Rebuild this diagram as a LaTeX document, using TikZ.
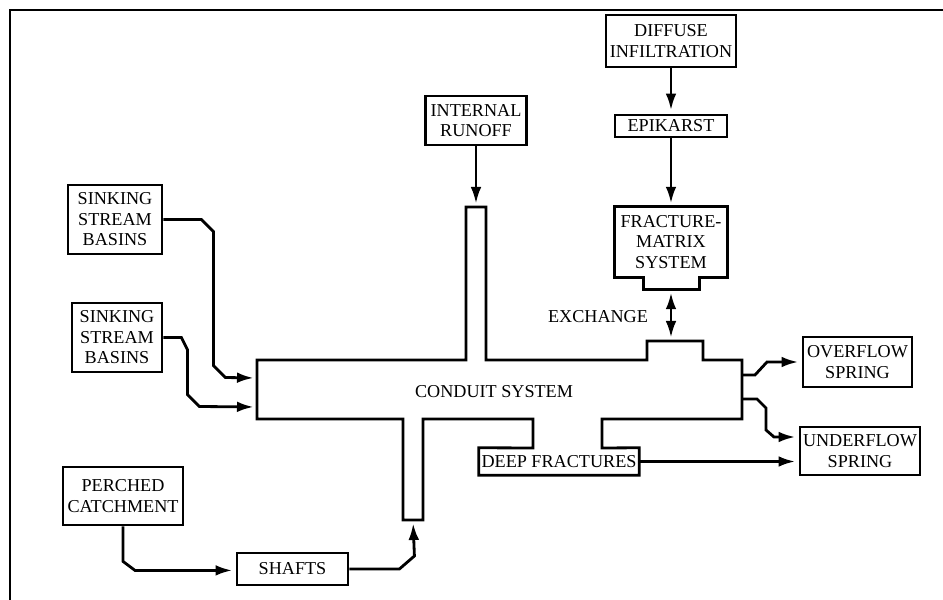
\documentclass[tikz,border=0pt]{standalone}
\usepackage{fontspec}
\setmainfont{Liberation Serif}
\usetikzlibrary{arrows.meta}

\tikzset{
  txt/.style={font=\fontsize{15.5}{17.5}\selectfont, align=center, inner sep=0pt},
  wall/.style={line width=2.4pt},
  flow/.style={line width=2.4pt, shorten >=0.1cm, -{Latex[length=0.5cm,width=0.32cm]}},
  both/.style={line width=2.4pt, shorten >=0.1cm, shorten <=0.1cm,
    {Latex[length=0.5cm,width=0.32cm]}-{Latex[length=0.5cm,width=0.32cm]}},
}

\begin{document}
\begin{tikzpicture}[x=0.03cm,y=-0.03cm]

        \useasboundingbox (0,0) rectangle (943,600);
        \draw[line width=1.2pt] (10,600) -- (10,10) -- (943,10);

        \begin{scope}[every node/.style={txt,draw,line width=2.4pt}]
          \node[minimum width=3.9cm,minimum height=1.56cm]  (di)  at (671,41)    {DIFFUSE\\INFILTRATION};
          \node[minimum width=3.36cm,minimum height=0.66cm] (epi) at (671,126)   {EPIKARST};
          \node[minimum width=3.03cm,minimum height=1.47cm] (ir)  at (476,120.5) {INTERNAL\\RUNOFF};
          \node[minimum width=2.82cm,minimum height=2.07cm] (ssa) at (115,219.5) {SINKING\\STREAM\\BASINS};
          \node[minimum width=2.7cm,minimum height=2.07cm]  (ssb) at (117,337.5) {SINKING\\STREAM\\BASINS};
          \node[minimum width=3.6cm,minimum height=1.74cm]  (pc)  at (123,496)   {PERCHED\\CATCHMENT};
          \node[minimum width=3.33cm,minimum height=0.96cm] (sh)  at (292.5,569) {SHAFTS};
          \node[minimum width=3.27cm,minimum height=1.5cm]  (os)  at (857.5,362) {OVERFLOW\\SPRING};
          \node[minimum width=3.6cm,minimum height=1.44cm]  (us)  at (860,451)   {UNDERFLOW\\SPRING};
        \end{scope}

        \begin{scope}[every node/.style={txt}]
          \node[minimum width=3.36cm,minimum height=2.1cm] (fm) at (671,242) {FRACTURE-\\MATRIX\\SYSTEM};
          \node[minimum width=4.8cm,minimum height=0.81cm] (df) at (559,461.5) {DEEP FRACTURES};
          \node (cs) at (494,392) {CONDUIT SYSTEM};
          \node (ex) at (598,317) {EXCHANGE};
        \end{scope}

        % fracture-matrix box with its outlet
        \draw[wall] (fm.north west) -- (fm.north east) -- (fm.south east) -- ++(-28,0)
          -- ++(0,12) -- ++(-56,0) -- ++(0,-12) -- (fm.south west) -- cycle;
        \coordinate (fm-n) at ([yshift=-0.36cm]fm.south);

        % conduit system
        \draw[wall] (257,360) -- (466,360) -- (466,207) -- (486,207) -- (486,360)
          -- (647,360) -- (647,341) -- (703,341) -- (703,360) -- (742,360)
          -- (742,419) -- (602,419) -- (602,448) -- (df.north east) -- (df.south east)
          -- (df.south west) -- (df.north west) -- (533,448) -- (533,419)
          -- (423,419) -- (423,520) -- (403,520) -- (403,419) -- (257,419) -- cycle;

        \coordinate (c-in1)  at (257,378);
        \coordinate (c-in2)  at (257,407);
        \coordinate (c-top)  at (476,207);
        \coordinate (c-bot)  at (413,520);
        \coordinate (c-ex)   at (671,341);
        \coordinate (c-out1) at (742,375);
        \coordinate (c-out2) at (742,399);

        \begin{scope}[every edge/.style={draw,flow}]
          \path (di)  edge (epi);
          \path (epi) edge (fm);
          \path (ir)  edge (c-top);
        \end{scope}

        \draw[both] (fm-n) -- (c-ex);

        \draw[flow] (ssa.east) -- ++(38,0) -- ++(12,12) -- ++(0,134) -- ++(12,12) coordinate (a1) -- (c-in1);
        \draw[flow] (ssb.east) -- ++(18,0) -- ++(6,12) -- ++(0,45) -- ++(12,12) coordinate (a2) -- (c-in2);
        \draw[flow] (pc.south) -- ++(0,35) -- ++(12,9) coordinate (a3) -- (a3 -| sh.west);
        \draw[flow] (sh.east) -- ++(50,0) -- ++(15,-13) -- (c-bot);
        \draw[flow] (c-out1) -- ++(13,0) -- ++(12,-13) coordinate (a4) -- (a4 -| os.west);
        \draw[flow] (c-out2) -- ++(15,0) -- ++(9,9) -- ++(0,22) -- ++(8,7) coordinate (a5) -- (a5 -| us.west);
        \draw[flow] (df.east) -- (df.east -| us.west);

\end{tikzpicture}
\end{document}
